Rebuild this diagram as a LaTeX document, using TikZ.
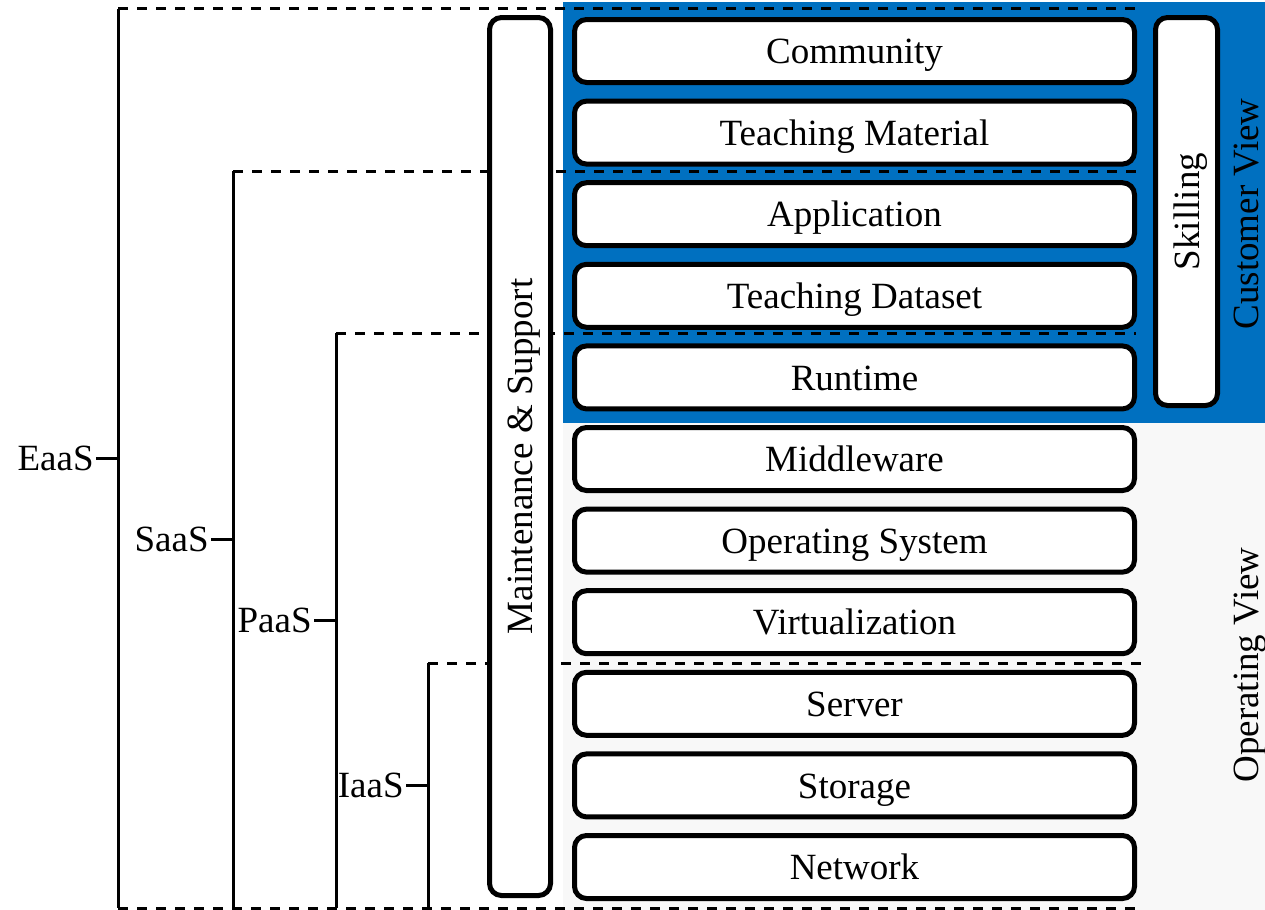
\documentclass[tikz,border=0pt]{standalone}
\usepackage{fontspec}
\setmainfont{Liberation Serif}
\usepackage{tikz}
\usetikzlibrary{positioning}
\definecolor{custblue}{HTML}{0070C0}
\definecolor{opgrey}{HTML}{F8F8F8}
\newcommand{\bigtxt}{\fontsize{18.5}{22}\selectfont}
\tikzstyle{ly} = [rectangle, draw=black, fill=white, rounded corners=6pt, line width=2.5pt, inner sep=0pt, outer sep=0pt, align=center, minimum width=280pt, minimum height=31.5pt, text height=12.6pt, text depth=0pt, font=\bigtxt]
\tikzstyle{sd} = [ly, rotate=90]
\tikzstyle{lb} = [inner sep=1pt, font=\bigtxt]
\tikzstyle{vw} = [rotate=90, anchor=base, inner sep=0pt, font=\bigtxt]
\tikzstyle{bk} = [black, line width=1.5pt]
\tikzstyle{dl} = [black, line width=1.5pt, dash pattern=on 5pt off 4.5pt]

\begin{document}
\begin{tikzpicture}[x=0.5pt, y=-0.5pt, node distance=9.3pt]
\useasboundingbox (0,0) rectangle (1265,910);

% views
\fill[custblue] (563,2) rectangle (1265,423);
\fill[opgrey] (563,423) rectangle (1265,910);
\node[vw] (cv) at (1258,214) {Customer View};
\node[vw] (ov) at (1258,665) {Operating View};

% service levels
\coordinate (dend) at (1142,0);
\coordinate (bend) at (1136,0);
\coordinate (et) at (118,8.5);
\coordinate (eb) at (118,908);
\coordinate (st) at (233,171);
\coordinate (pat) at (336,333);
\coordinate (it) at (428,663);

\draw[dl] (et) -- (et -| dend);
\draw[dl] (st) -- (st -| dend);
\draw[dl] (pat) -- (pat -| bend);
\draw[dl] (it) -- (it -| dend);
\draw[dl] (eb) -- (eb -| bend);

\draw[bk] (et) -- coordinate (em) (eb);
\draw[bk] (st) -- coordinate (sm) (st |- eb);
\draw[bk] (pat) -- coordinate (pm) (pat |- eb);
\draw[bk] (it) -- coordinate (im) (it |- eb);

\node[lb, left=11pt of em] (eaas) {EaaS};
\node[lb, left=11pt of sm] (saas) {SaaS};
\node[lb, left=11pt of pm] (paas) {PaaS};
\node[lb, left=11pt of im] (iaas) {IaaS};
\draw[bk] (eaas) -- (em);
\draw[bk] (saas) -- (sm);
\draw[bk] (paas) -- (pm);
\draw[bk] (iaas) -- (im);

% stack
\node[sd, minimum width=439pt, minimum height=30.5pt] (ms) at (520,456.5) {Maintenance \& Support};
\node[sd, minimum width=194pt, minimum height=31pt] (sk) at (1186.5,211.5) {Skilling};

\node[ly] (com) at (854.5,51) {Community};
\node[ly, below=of com] (tmat) {Teaching Material};
\node[ly, below=of tmat] (app) {Application};
\node[ly, below=of app] (tdat) {Teaching Dataset};
\node[ly, below=of tdat] (run) {Runtime};
\node[ly, below=of run] (mid) {Middleware};
\node[ly, below=of mid] (os) {Operating System};
\node[ly, below=of os] (virt) {Virtualization};
\node[ly, below=of virt] (srv) {Server};
\node[ly, below=of srv] (sto) {Storage};
\node[ly, below=of sto] (net) {Network};
\end{tikzpicture}
\end{document}
